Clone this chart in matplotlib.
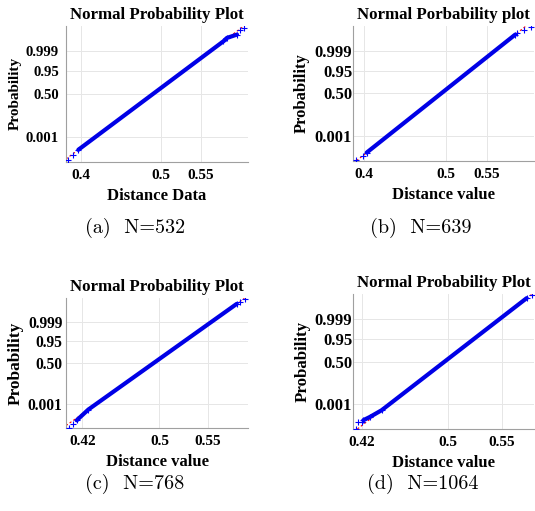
import matplotlib.pyplot as plt

plt.rcParams['font.family'] = 'Liberation Serif'
plt.rcParams['font.weight'] = 'bold'

# probability ticks and their normal quantiles
prob_labels = ['0.001', '0.50', '0.95', '0.999']
prob_z = [-3.090, 0.0, 1.645, 3.090]
quart_z = [-0.6745, 0.6745]

# (a) N=532  -- sorted distance vs. normal quantile
a_lo_d = [0.3833, 0.3903]
a_lo_z = [-4.80, -4.39]
a_band_d = [0.3966, 0.5785, 0.5828, 0.5954]
a_band_z = [-4.04, 3.80, 4.04, 4.28]
a_hi_d = [0.5991, 0.6036]
a_hi_z = [4.59, 4.75]
a_quart = [0.4747, 0.5060]

# (b) N=639
b_lo_d = [0.3898, 0.3988]
b_lo_z = [-4.86, -4.55]
b_band_d = [0.4029, 0.5849]
b_band_z = [-4.31, 4.27]
b_hi_d = [0.5870, 0.5960, 0.6044]
b_hi_z = [4.40, 4.59, 4.86]
b_quart = [0.4800, 0.5086]

# (c) N=768
c_lo_d = [0.4062, 0.4107]
c_lo_z = [-4.85, -4.55]
c_band_d = [0.4142, 0.4262, 0.5801]
c_band_z = [-4.30, -3.49, 4.48]
c_hi_d = [0.5835, 0.5887]
c_hi_z = [4.65, 4.86]
c_quart = [0.4806, 0.5066]

# (d) N=1064
d_lo_d = [0.4147, 0.4168, 0.4200]
d_lo_z = [-4.87, -4.39, -4.39]
d_band_d = [0.4215, 0.4277, 0.4386, 0.5732]
d_band_z = [-4.26, -4.02, -3.53, 4.62]
d_hi_d = [0.5778]
d_hi_z = [4.86]
d_quart = [0.4858, 0.5081]

W, H = 535, 511
fig = plt.figure(figsize=(W / 100, H / 100), dpi=100)


def px_axes(l, t, r, b):
    return fig.add_axes([l / W, 1 - b / H, (r - l) / W, (b - t) / H])


def probplot(ax, lo, band, hi, quart, title, xlabel, xlim, xticks, ytick_fs, ylab_fs, ypad, ylab_x):
    ax.axline((quart[0], quart_z[0]), (quart[1], quart_z[1]), color='red',
              ls=(0, (2, 2)), lw=0.8, zorder=1)
    ax.plot(band[0], band[1], color='#0000e6', lw=3.0, solid_capstyle='round', zorder=2)
    for d, z in (lo, band, hi):
        ax.plot(d, z, '+', color='blue', ms=4.5, mew=0.8, zorder=3)
    ax.set_xlim(*xlim)
    ax.set_ylim(-4.9, 4.9)
    ax.set_xticks(xticks)
    ax.set_xticklabels([f'{t:g}' for t in xticks], fontsize=11)
    ax.set_yticks(prob_z)
    ax.set_yticklabels(prob_labels, fontsize=ytick_fs)
    ax.tick_params(length=0)
    ax.tick_params(axis='x', pad=5)
    ax.tick_params(axis='y', pad=ypad)
    ax.grid(color='#e6e6e6', lw=0.7)
    ax.set_axisbelow(True)
    for s in ['top', 'right']:
        ax.spines[s].set_visible(False)
    for s in ['left', 'bottom']:
        ax.spines[s].set_color('#a0a0a0')
        ax.spines[s].set_linewidth(0.8)
    ax.set_title(title, fontsize=12.2, fontweight='bold', pad=5)
    ax.set_xlabel(xlabel, fontsize=12, fontweight='bold', labelpad=4.5)
    ax.set_ylabel('Probability', fontsize=ylab_fs, fontweight='bold')
    ax.yaxis.set_label_coords(ylab_x, 0.5)
    ax.yaxis.label.set_verticalalignment('center')


ax1 = px_axes(66, 26, 248, 161.7)
probplot(ax1, (a_lo_d, a_lo_z), (a_band_d, a_band_z), (a_hi_d, a_hi_z), a_quart,
         'Normal Probability Plot', 'Distance Data', (0.3812, 0.6092), [0.4, 0.5, 0.55],
         10.6, 11, 5, -0.28)

ax2 = px_axes(353.3, 26, 534, 160.7)
probplot(ax2, (b_lo_d, b_lo_z), (b_band_d, b_band_z), (b_hi_d, b_hi_z), b_quart,
         'Normal Porbability plot', 'Distance value', (0.3865, 0.608), [0.4, 0.5, 0.55],
         12, 12, 0.8, -0.284)

ax3 = px_axes(66, 298.3, 248.3, 428.3)
probplot(ax3, (c_lo_d, c_lo_z), (c_band_d, c_band_z), (c_hi_d, c_hi_z), c_quart,
         'Normal Probability Plot', 'Distance value', (0.4031, 0.5921), [0.42, 0.5, 0.55],
         11.2, 12.5, 2.5, -0.274)

ax4 = px_axes(353.3, 294.3, 534, 429)
probplot(ax4, (d_lo_d, d_lo_z), (d_band_d, d_band_z), (d_hi_d, d_hi_z), d_quart,
         'Normal Probability Plot', 'Distance value', (0.4122, 0.58), [0.42, 0.5, 0.55],
         12, 12.2, 0.8, -0.281)

# sub-captions
captions = ['(a)  N=532', '(b)  N=639', '(c)  N=768', '(d)  N=1064']
cap_xy = [(135, 228), (421, 228), (135, 484), (423, 484)]
for txt, (x, y) in zip(captions, cap_xy):
    fig.text(x / W, 1 - y / H, txt, fontfamily='cmr10', fontweight='normal',
             fontsize=14.5, ha='center', va='center')

fig.savefig('out.png', dpi=100)
